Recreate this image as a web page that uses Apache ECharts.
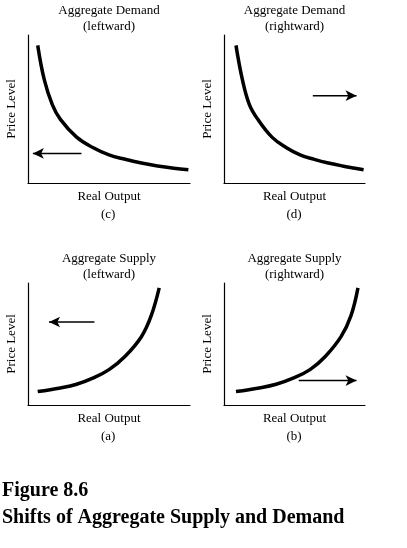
<!DOCTYPE html>
<html><head><meta charset="utf-8">
<script src="https://cdn.jsdelivr.net/npm/echarts@6/dist/echarts.min.js"></script>
<style>html,body{margin:0;background:#fff}#c{width:407px;height:548px}</style>
</head><body><div id="c"></div>
<script>
// panel order: c, d, a, b
var panelTitles = ['Aggregate Demand\n(leftward)', 'Aggregate Demand\n(rightward)', 'Aggregate Supply\n(leftward)', 'Aggregate Supply\n(rightward)'];
var panelLetters = ['(c)', '(d)', '(a)', '(b)'];
var demandLeft = [[0.6,9.3],[1,7],[1.5,5.3],[2,4.3],[3,3.1],[4,2.4],[5,1.9],[6,1.6],[7,1.35],[8,1.15],[9,1.0],[9.9,0.9]];
var demandRight = [[0.85,9.3],[1.3,7],[1.8,5.3],[2.4,4.3],[3.4,3.1],[4.4,2.4],[5.4,1.9],[6.4,1.6],[7.4,1.35],[8.4,1.15],[9.3,1.0],[9.9,0.9]];
var supplyLeft = [[0.6,1.1],[2,1.4],[3,1.7],[4,2.2],[5,2.9],[6,4],[7,5.6],[7.6,7.3],[8.1,9.6]];
var supplyRight = [[0.85,1.1],[2.5,1.4],[3.7,1.7],[4.9,2.2],[6.1,2.9],[7.2,4],[8.3,5.6],[9,7.3],[9.5,9.6]];
var curves = [demandLeft, demandRight, supplyLeft, supplyRight];
var arrows = [[[3.3,2.0],[0.3,2.0]], [[6.3,5.9],[9.4,5.9]], [[4.1,6.8],[1.3,6.8]], [[5.3,2.0],[9.4,2.0]]];

var grids = [
  {left: 28, top: 35, width: 162, height: 148},
  {left: 224, top: 35, width: 141, height: 148},
  {left: 28, top: 283, width: 162, height: 122},
  {left: 224, top: 283, width: 141, height: 122}
];
var font = '"Liberation Serif", "DejaVu Serif", serif';
var axisLine = {show: true, lineStyle: {color: '#000', width: 1.2}};
var xAxes = [], yAxes = [], series = [], graphics = [];
grids.forEach(function (g, i) {
  xAxes.push({gridIndex: i, type: 'value', min: 0, max: 10, axisLine: axisLine, axisTick: {show: false},
    axisLabel: {show: false}, splitLine: {show: false}, name: 'Real Output', nameLocation: 'middle', nameGap: 7,
    nameTextStyle: {fontFamily: font, fontSize: 13, color: '#000'}});
  yAxes.push({gridIndex: i, type: 'value', min: 0, max: 10, axisLine: axisLine, axisTick: {show: false},
    axisLabel: {show: false}, splitLine: {show: false}, name: 'Price Level', nameLocation: 'middle', nameGap: 10,
    nameTextStyle: {fontFamily: font, fontSize: 13, color: '#000'}});
  series.push({type: 'line', xAxisIndex: i, yAxisIndex: i, data: curves[i], smooth: 0.4, symbol: 'none',
    lineStyle: {color: '#000', width: 3.5}});
  var a = arrows[i];
  var rot = a[1][0] > a[0][0] ? -90 : 90;
  series.push({type: 'line', xAxisIndex: i, yAxisIndex: i, showAllSymbol: true,
    data: [{value: a[0], symbol: 'none'}, {value: a[1], symbol: 'arrow', symbolSize: [8, 11], symbolRotate: rot}],
    itemStyle: {color: '#000'}, lineStyle: {color: '#000', width: 1.5}});
  var cx = g.left + g.width / 2;
  graphics.push({type: 'text', left: cx - 60, top: g.top - 32, style: {text: panelTitles[i], width: 120,
    textAlign: 'center', x: 60, font: '13px ' + font, fill: '#000', lineHeight: 16}});
  graphics.push({type: 'text', left: cx - 8, top: g.top + g.height + 25, style: {text: panelLetters[i],
    font: '13px ' + font, fill: '#000'}});
});
graphics.push({type: 'text', left: 2, top: 481, style: {text: 'Figure 8.6', font: 'bold 20px ' + font, fill: '#000'}});
graphics.push({type: 'text', left: 2, top: 508, style: {text: 'Shifts of Aggregate Supply and Demand', font: 'bold 20px ' + font, fill: '#000'}});

var chart = echarts.init(document.getElementById('c'));
chart.setOption({animation: false, grid: grids, xAxis: xAxes, yAxis: yAxes, series: series, graphic: graphics});
</script></body></html>
